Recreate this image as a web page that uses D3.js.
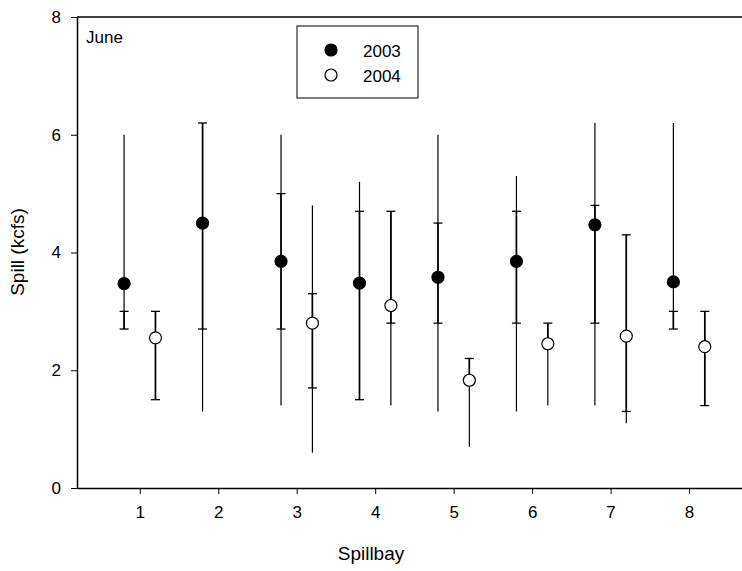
<!DOCTYPE html>
<html><head><meta charset="utf-8">
<script src="https://cdn.jsdelivr.net/npm/d3@7"></script>
<style>body{margin:0;background:#fff}svg text{font-family:Arial,"Liberation Sans",sans-serif}</style>
</head><body><svg id="c" width="742" height="571"></svg>
<script>
const bays = [1,2,3,4,5,6,7,8];
// 2003
const mean03 = [3.47,4.5,3.85,3.48,3.58,3.85,4.47,3.5];
const min03  = [2.7,1.3,1.4,1.5,1.3,1.3,1.4,2.7];
const max03  = [6.0,6.2,6.0,5.2,6.0,5.3,6.2,6.2];
const caps03 = [[3.0,2.7],[6.2,2.7],[5.0,2.7],[4.7,1.5],[4.5,2.8],[4.7,2.8],[4.8,2.8],[3.0,2.7]];
// 2004 (no bay 2)
const bays04 = [1,3,4,5,6,7,8];
const mean04 = [2.55,2.8,3.1,1.83,2.45,2.58,2.4];
const min04  = [1.5,0.6,1.4,0.7,1.4,1.1,1.4];
const max04  = [3.0,4.8,4.7,2.2,2.8,4.3,3.0];
const caps04 = [[3.0,1.5],[3.3,1.7],[4.7,2.8],[2.2],[2.8],[4.3,1.3],[3.0,1.4]];
const yTicks = [0,2,4,6,8];

const svg = d3.select("#c");
const x = d3.scaleLinear().domain([0.2,8.7]).range([77,744]);
const y = d3.scaleLinear().domain([0,8]).range([488,17]);

svg.append("g").attr("transform","translate(0,488)")
  .call(d3.axisBottom(x).tickValues(bays).tickSize(6).tickPadding(12).tickSizeOuter(0))
  .call(g=>g.select(".domain").attr("stroke-width",1.5));
svg.append("g").attr("transform","translate(77,0)")
  .call(d3.axisLeft(y).tickValues(yTicks).tickSize(6).tickPadding(10).tickSizeOuter(0))
  .call(g=>g.select(".domain").attr("stroke-width",1.5));
svg.selectAll(".tick text").style("font-size","17px").attr("fill","#000");
svg.append("line").attr("x1",77).attr("x2",742).attr("y1",y(8)).attr("y2",y(8)).attr("stroke","#000").attr("stroke-width",1.5);

svg.append("text").attr("x",371).attr("y",560).attr("text-anchor","middle").style("font-size","19px").text("Spillbay");
svg.append("text").attr("transform","translate(24,252) rotate(-90)").attr("text-anchor","middle").style("font-size","19px").text("Spill (kcfs)");
svg.append("text").attr("x",86).attr("y",43).style("font-size","17px").text("June");

function series(bs, mean, mn, mx, caps, off, fill){
  const g = svg.append("g");
  bs.forEach((b,i)=>{
    const cx = x(b+off);
    g.append("line").attr("x1",cx).attr("x2",cx).attr("y1",y(mn[i])).attr("y2",y(mx[i])).attr("stroke","#000").attr("stroke-width",1.2);
    const c = caps[i];
    const y0 = c[0], y1 = c.length===2 ? c[1] : mean[i];
    g.append("line").attr("x1",cx).attr("x2",cx).attr("y1",y(y0)).attr("y2",y(y1)).attr("stroke","#000").attr("stroke-width",1.6);
    c.forEach(v=>g.append("line").attr("x1",cx-4.5).attr("x2",cx+4.5).attr("y1",y(v)).attr("y2",y(v)).attr("stroke","#000").attr("stroke-width",1.3));
    g.append("circle").attr("cx",cx).attr("cy",y(mean[i])).attr("r",6).attr("fill",fill).attr("stroke","#000").attr("stroke-width",1.2);
  });
}
series(bays, mean03, min03, max03, caps03, -0.2, "#000");
series(bays04, mean04, min04, max04, caps04, 0.2, "#fff");

const lg = svg.append("g");
lg.append("rect").attr("x",297).attr("y",26).attr("width",121).attr("height",72).attr("fill","#fff").attr("stroke","#000");
[["2003","#000"],["2004","#fff"]].forEach((d,i)=>{
  lg.append("circle").attr("cx",331).attr("cy",50+i*25).attr("r",6).attr("fill",d[1]).attr("stroke","#000").attr("stroke-width",1.2);
  lg.append("text").attr("x",363).attr("y",57+i*25).style("font-size","17px").text(d[0]);
});
</script></body></html>
